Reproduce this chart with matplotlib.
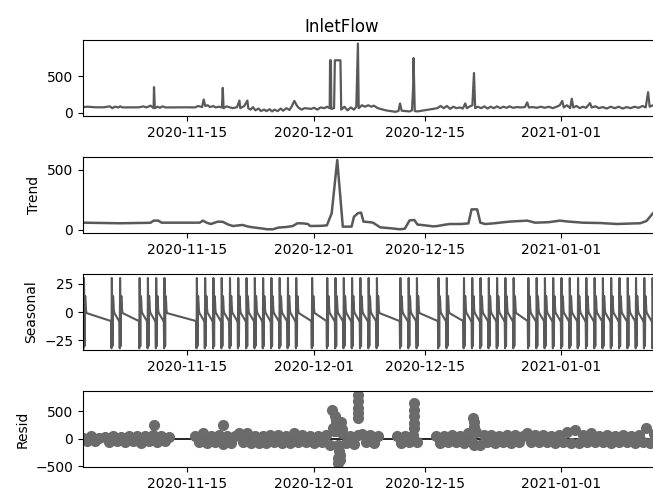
import numpy as np
import pandas as pd
import matplotlib
matplotlib.use('Agg')
import matplotlib.pyplot as plt
import matplotlib.dates as mdates

# day offsets are counted from 2020-11-01 00:00
base = pd.Timestamp('2020-11-01')

# observed InletFlow (day, value)
obs_days = [0.92, 1.5, 2.5, 3.5, 4.3, 4.6, 4.9, 5.4, 5.6, 5.9, 8.0, 8.5, 8.9, 9.4, 9.8, 9.85, 9.95,
            10.3, 10.6, 10.9, 11.3, 14.0, 15.0, 15.4, 15.9, 16.1, 16.3, 16.6, 16.9, 17.3, 17.6, 18.0,
            18.4, 18.5, 18.6, 19.0, 19.4, 19.8, 20.3, 20.6, 20.7, 21.2, 21.6, 21.7, 22.0, 22.3, 22.6,
            23.0, 23.3, 23.7, 24.0, 24.4, 24.7, 25.0, 25.4, 25.8, 26.1, 26.5, 26.9, 27.2, 27.5, 27.8,
            28.0, 28.4, 28.8, 29.2, 29.6, 30.0, 30.4, 30.8, 31.3, 31.6, 31.95, 32.0, 32.1, 32.15, 32.5,
            32.6, 33.3, 33.4, 33.8, 34.2, 34.6, 35.0, 35.3, 35.5, 35.6, 36.0, 36.4, 36.8, 37.2, 37.5,
            38.0, 39.0, 40.2, 40.6, 40.8, 41.0, 41.5, 42.0, 42.3, 42.45, 42.5, 42.65, 43.0, 45.5, 45.9,
            46.3, 46.7, 47.1, 47.5, 47.9, 48.3, 48.7, 49.0, 49.2, 49.6, 49.9, 50.1, 50.25, 50.6, 51.0,
            51.4, 51.8, 52.2, 52.6, 53.0, 53.4, 53.8, 54.2, 54.6, 55.0, 55.5, 56.0, 56.5, 56.8, 57.0,
            57.5, 58.0, 58.5, 59.0, 59.5, 60.0, 60.5, 60.9, 61.2, 61.4, 61.8, 62.2, 62.4, 62.6, 63.0,
            63.4, 63.8, 64.2, 64.7, 64.9, 65.4, 65.8, 66.3, 66.8, 67.3, 67.8, 68.3, 68.8, 69.3, 69.8,
            70.3, 70.8, 71.3, 71.7, 72.0, 72.2, 72.6, 73.0, 73.5]
obs_vals = [75, 80, 72, 72, 85, 60, 80, 70, 85, 70, 72, 85, 70, 95, 60, 350, 60,
            80, 65, 85, 70, 72, 70, 90, 75, 180, 90, 100, 75, 90, 70, 80,
            70, 340, 60, 85, 70, 60, 75, 165, 60, 90, 165, 60, 40, 75, 30,
            55, 20, 40, 20, 45, 15, 40, 20, 55, 25, 60, 35, 90, 160, 100,
            70, 40, 60, 55, 50, 65, 40, 70, 60, 80, 60, 720, 720, 50, 60,
            720, 720, 40, 80, 30, 70, 40, 80, 950, 60, 100, 80, 100, 80, 95,
            60, 30, 10, 20, 125, 25, 20, 15, 30, 350, 750, 20, 15, 60, 90,
            60, 90, 50, 80, 60, 70, 55, 125, 60, 85, 100, 545, 60, 80, 60,
            85, 55, 80, 60, 85, 60, 80, 65, 85, 65, 75, 70, 75, 140, 70,
            75, 65, 80, 65, 80, 60, 80, 100, 160, 70, 100, 60, 190, 70, 90,
            60, 80, 65, 130, 70, 85, 60, 75, 55, 80, 60, 80, 55, 75, 60,
            80, 65, 90, 70, 280, 80, 100, 80, 90]

# trend (day, value)
trend_days = [0.92, 5.6, 9.4, 9.8, 10.4, 10.8, 15.6, 16.0, 16.5, 17.0, 17.9, 18.5, 19.2, 19.8, 20.4,
              21.0, 21.6, 22.3, 23.5, 24.1, 24.8, 25.5, 26.5, 27.3, 27.9, 28.6, 29.2, 29.5, 31.0,
              31.6, 32.2, 32.9, 33.6, 34.7, 35.0, 35.5, 35.9, 36.2, 37.0, 37.4, 38.3, 39.5, 40.8,
              41.4, 42.0, 42.6, 43.0, 43.5, 45.0, 45.5, 46.5, 47.1, 48.5, 49.4, 49.8, 50.5, 50.9,
              51.5, 52.5, 54.6, 56.8, 57.8, 59.5, 60.9, 62.0, 63.8, 66.0, 68.1, 70.3, 71.0, 71.8,
              72.6, 73.5]
trend_vals = [61, 56, 60, 78, 78, 61, 61, 78, 60, 50, 70, 68, 45, 33, 38,
              42, 30, 22, 12, 6, 6, 20, 25, 33, 56, 55, 50, 33, 35,
              39, 139, 583, 28, 28, 110, 140, 145, 70, 65, 61, 22, 15, 6,
              11, 80, 83, 45, 42, 30, 33, 45, 50, 50, 55, 172, 172, 61,
              50, 55, 70, 78, 61, 65, 78, 70, 61, 58, 50, 55, 56, 75,
              139, 200]

# seasonal: one cycle of 25 hourly values, and the runs of cycles present
season_profile = [-32, 30, 8, -30, 12, 14, 9, 2, 0, -1, -1.5, -2, -2.5, -3, -3.5, -4, -4.5,
                  -5, -5.5, -6, -6.5, -7, -7.5, -8, -8]
season_blocks = [(1.0, 1), (4.5, 2), (8.0, 4), (15.2, 13), (29.7, 1), (31.6, 7), (40.8, 3),
                 (45.6, 2), (48.8, 7), (56.9, 17)]
season_tail = 10

# residual band, sampled every half day, per run of data
resid_runs = [
    (0.95, [10, -40, 45, -30, 25]),
    (3.7, [30, -60, 60, -45, 40, -65, 55, -40, 50, -70, 60, -45, 80, -60, 55, -45, 40]),
    (15.0, [45, -60, 110, -70, 60, -50, 80, -90, 60, -70, 50, 100, -60, 110, -70, 60, -80, 50, -70, 65,
            -60, 70, -80, 60, -70, 110, -60, 70, -65, 60, -75, 55, -60, 70, -110, 150, -350, 110, -70, 60,
            -90, 70, 90, -60, 80, -70, 45]),
    (40.4, [50, -70, 60, -60, 70, -50]),
    (45.3, [60, -70, 50, -60, 70, -50, 60, -80, 100, -60, 120, -110, 70, -60, 80, -70, 60, -60, 70, -70,
            65, -65, 60, 100, -60, 70, -60, 70, -65, 60, -70, 70, -60, 120, -70, 160, -70, 70, -60, 100,
            -65, 60, -60, 70, -70, 60, -65, 70, -60, 60, -70, 65, -60, 190, -70, 90, 140]),
]
# residual outliers (day, value)
out_days = [9.85, 18.5, 32.2, 32.4, 32.6, 32.7, 32.8, 32.9, 32.95, 33.0, 33.1, 33.2, 33.3, 33.4, 33.5,
            35.5, 35.5, 35.5, 35.5, 35.5, 42.6, 42.6, 42.6, 42.6, 42.6,
            50.0, 50.1, 50.15, 50.2, 50.1]
out_vals = [260, 250, 530, 200, 410, 330, 240, 150, -448, -120, -220, -300, -380, 300, 180,
            803, 683, 563, 473, 383, 653, 532, 412, 292, 202,
            380, 300, 220, 150, -110]

tick_dates = ['2020-11-15', '2020-12-01', '2020-12-15', '2021-01-01']


def to_dates(days):
    return base + pd.to_timedelta(np.asarray(days, dtype=float), unit='D')


# seasonal samples
n_cyc = len(season_profile)
s_days, s_vals = [], []
for i, (start, n) in enumerate(season_blocks):
    if i > 0:
        s_days.append(start - 1 / 24)
        s_vals.append(season_profile[-1])
    for k in range(n):
        m = n_cyc if k < n - 1 else season_tail
        for j in range(m):
            s_days.append(start + (k * n_cyc + j) / 24)
            s_vals.append(season_profile[j])

r_days, r_vals = [], []
for start, vals in resid_runs:
    r_days += list(start + 0.5 * np.arange(len(vals)))
    r_vals += vals
r_days += out_days
r_vals += out_vals

line_c = '#595959'
dot_c = '#6b6b6b'
x0, x1 = to_dates([0.918, 73.5])

fig = plt.figure(figsize=(6.53, 4.9), dpi=100)
W, H = 653, 490
tops = [40, 157, 274, 391]
axes = [fig.add_axes([83 / W, 1 - (t + 76) / H, 577 / W, 76 / H]) for t in tops]
ax1, ax2, ax3, ax4 = axes

ax1.plot(to_dates(obs_days), obs_vals, color=line_c, lw=1.6)
ax1.set_title('InletFlow', x=0.449)
ax1.set_ylim(-48, 1000)
ax1.set_yticks([0, 500])

ax2.plot(to_dates(trend_days), trend_vals, color=line_c, lw=1.8)
ax2.set_ylabel('Trend')
ax2.set_ylim(-25, 608)
ax2.set_yticks([0, 500])

ax3.plot(to_dates(s_days), s_vals, color=line_c, lw=1.5)
ax3.set_ylabel('Seasonal')
ax3.set_ylim(-33.5, 33.5)
ax3.set_yticks([-25, 0, 25])

ax4.plot(to_dates(r_days), r_vals, marker='o', linestyle='none', color=dot_c, markersize=7)
ax4.plot([x0, x1], [0, 0], color='#000000', lw=1.2, zorder=-3)
ax4.set_ylabel('Resid')
ax4.set_ylim(-512, 873)
ax4.set_yticks([-500, 0, 500])

for ax in axes:
    ax.set_xlim(x0, x1)
    ax.set_xticks(pd.to_datetime(tick_dates))
    ax.xaxis.set_major_formatter(mdates.DateFormatter('%Y-%m-%d'))

fig.savefig('out.png', dpi=100)
